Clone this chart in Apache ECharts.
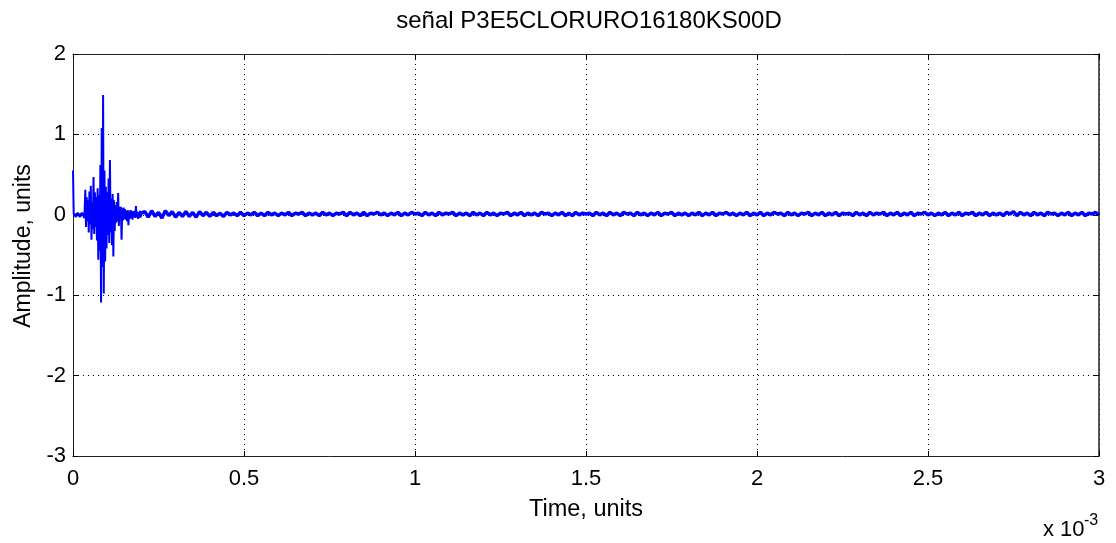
<!DOCTYPE html>
<html>
<head>
<meta charset="utf-8">
<title>señal P3E5CLORURO16180KS00D</title>
<script src="https://cdn.jsdelivr.net/npm/echarts@6/dist/echarts.min.js"></script>
<style>
  html, body { margin: 0; padding: 0; background: #fff; }
  #chart { width: 1116px; height: 543px; }
</style>
</head>
<body>
<div id="chart"></div>
<script>
// Signal samples, time axis in units of 1e-3
const burstStep = 0.002;   // sampling of the opening burst, t = 0 .. 0.2
const burstValues = [
  0.55, 0.02, -0.02, 0.01, -0.03, 0.02, -0.01, 0.03, -0.02, 0.01,
  -0.03, 0.02, -0.02, 0.03, -0.01, 0.02, -0.04, 0.05, 0.31, -0.15,
  0.22, -0.08, 0.18, -0.22, 0.29, -0.12, 0.36, -0.31, 0.15, -0.18,
  0.47, -0.24, 0.28, -0.15, 0.22, -0.32, 0.33, -0.56, 0.25, -0.45,
  0.62, -1.09, 1.08, -0.65, 1.49, -0.98, 0.55, -0.58, 0.35, -0.42,
  0.28, -0.25, 0.45, -0.35, 0.68, -0.22, 0.20, -0.38, 0.26, -0.52,
  0.18, -0.20, 0.12, -0.10, 0.16, -0.08, 0.27, -0.14, 0.10, -0.06,
  0.10, -0.31, 0.08, -0.07, 0.09, -0.05, 0.07, -0.06, 0.05, -0.08,
  0.06, -0.13, 0.04, -0.05, 0.06, -0.04, 0.05, -0.06, 0.04, -0.03,
  0.05, -0.04, 0.11, -0.03, 0.04, -0.05, 0.03, -0.04, 0.05, -0.03,
  0.02
];
const tailStart = 0.2;
const tailStep = 0.01;     // sampling of the long tail, t = 0.21 .. 3
const tailValues = [
  0.04, -0.03, 0.05, -0.02, 0.03, -0.04, 0.05, -0.01, 0.04, -0.03, 0.03, -0.02, 0.04, -0.02, 0.03, -0.03, 0.04, -0.01, 0.03, -0.02,
  0.03, -0.01, 0.02, -0.02, 0.03, 0.00, 0.02, -0.01, 0.03, -0.01, 0.02, 0.00, 0.03, -0.01, 0.02, -0.01, 0.03, 0.00, 0.02, -0.01,
  0.02, 0.00, 0.03, -0.01, 0.02, 0.01, 0.03, -0.01, 0.02, 0.00, 0.02, -0.01, 0.03, 0.00, 0.02, -0.01, 0.02, 0.01, 0.03, -0.01,
  0.03, 0.00, 0.02, -0.01, 0.03, -0.01, 0.02, 0.01, 0.03, 0.00, 0.02, -0.01, 0.02, 0.00, 0.03, -0.01, 0.02, 0.00, 0.03, 0.01,
  0.02, -0.01, 0.03, 0.00, 0.02, -0.01, 0.03, 0.00, 0.02, 0.01, 0.03, -0.01, 0.02, 0.00, 0.02, -0.01, 0.03, 0.00, 0.02, -0.01,
  0.03, 0.00, 0.02, -0.01, 0.02, 0.01, 0.03, -0.01, 0.02, 0.00, 0.03, -0.01, 0.02, 0.00, 0.02, -0.01, 0.03, 0.01, 0.02, -0.01,
  0.02, 0.00, 0.03, -0.01, 0.02, -0.01, 0.03, 0.00, 0.02, 0.01, 0.02, -0.01, 0.03, 0.00, 0.02, -0.01, 0.03, 0.00, 0.02, -0.01,
  0.03, 0.01, 0.02, -0.01, 0.03, 0.00, 0.02, -0.01, 0.02, 0.00, 0.03, -0.01, 0.02, 0.01, 0.03, -0.01, 0.02, 0.00, 0.02, -0.01,
  0.02, 0.00, 0.03, -0.01, 0.02, 0.00, 0.03, -0.01, 0.02, 0.01, 0.03, 0.00, 0.02, -0.01, 0.02, 0.00, 0.03, -0.01, 0.02, 0.00,
  0.03, -0.01, 0.02, 0.00, 0.03, 0.01, 0.02, -0.01, 0.03, 0.00, 0.02, -0.01, 0.02, 0.01, 0.03, -0.01, 0.02, 0.00, 0.03, -0.01,
  0.02, 0.00, 0.03, -0.01, 0.02, 0.01, 0.02, -0.01, 0.03, 0.00, 0.02, -0.01, 0.03, 0.00, 0.02, 0.01, 0.03, -0.01, 0.02, 0.00,
  0.03, -0.01, 0.02, 0.00, 0.03, -0.01, 0.02, 0.01, 0.03, 0.00, 0.02, -0.01, 0.02, 0.00, 0.03, -0.01, 0.02, 0.00, 0.03, -0.01,
  0.02, 0.01, 0.03, -0.01, 0.02, 0.00, 0.03, -0.01, 0.02, 0.00, 0.02, -0.01, 0.03, 0.01, 0.04, -0.01, 0.03, 0.00, 0.02, -0.01,
  0.03, 0.00, 0.02, -0.01, 0.03, 0.01, 0.02, -0.01, 0.02, 0.00, 0.03, -0.01, 0.02, 0.00, 0.03, -0.01, 0.02, 0.01, 0.03, 0.00
];
const xTicks = { min: 0, max: 3, step: 0.5 };
const yTicks = { min: -3, max: 2, step: 1 };
const titleText = 'señal P3E5CLORURO16180KS00D';
const xName = 'Time, units';
const yName = 'Amplitude, units';

// Build [time, amplitude] pairs for the two sampled segments
const burst = burstValues.map((v, i) => [+(i * burstStep).toFixed(4), v]);
const tail = [burst[burst.length - 1]].concat(
  tailValues.map((v, i) => [+(tailStart + (i + 1) * tailStep).toFixed(4), v])
);

const FONT = '"Liberation Sans", Arial, sans-serif';
const chart = echarts.init(document.getElementById('chart'), null, { renderer: 'canvas' });

const dotted = { show: true, lineStyle: { color: '#000', width: 1, type: [1, 4] } };
const tickIn = { show: true, inside: true, length: 5, lineStyle: { color: '#000', width: 1 } };

chart.setOption({
  animation: false,
  backgroundColor: '#fff',
  title: {
    text: titleText,
    left: 584, top: 4, textAlign: 'center',
    textStyle: { fontFamily: FONT, fontSize: 24, fontWeight: 'normal', color: '#000' }
  },
  grid: { left: 73, right: 17, top: 54, bottom: 87, show: false },
  xAxis: [{
    type: 'value', min: xTicks.min, max: xTicks.max, interval: xTicks.step,
    name: xName, nameLocation: 'middle', nameGap: 42,
    nameTextStyle: { fontFamily: FONT, fontSize: 23.5, color: '#000' },
    axisLine: { show: true, onZero: false, lineStyle: { color: '#222', width: 1 } },
    axisTick: tickIn,
    axisLabel: { fontFamily: FONT, fontSize: 22, color: '#000', margin: 12 },
    splitLine: dotted
  }, {
    type: 'value', position: 'top', min: xTicks.min, max: xTicks.max, interval: xTicks.step,
    axisLine: { show: true, onZero: false, lineStyle: { color: '#222', width: 1 } },
    axisTick: tickIn, axisLabel: { show: false }, splitLine: { show: false }
  }],
  yAxis: [{
    type: 'value', min: yTicks.min, max: yTicks.max, interval: yTicks.step,
    name: yName, nameLocation: 'middle', nameGap: 34,
    nameTextStyle: { fontFamily: FONT, fontSize: 23, color: '#000', padding: [0, 0, 0, 18] },
    axisLine: { show: true, onZero: false, lineStyle: { color: '#222', width: 1 } },
    axisTick: tickIn,
    axisLabel: { fontFamily: FONT, fontSize: 22, color: '#000', margin: 7 },
    splitLine: dotted
  }, {
    type: 'value', position: 'right', min: yTicks.min, max: yTicks.max, interval: yTicks.step,
    axisLine: { show: true, onZero: false, lineStyle: { color: '#222', width: 1.5 } },
    axisTick: tickIn, axisLabel: { show: false }, splitLine: { show: false }
  }],
  series: [{
    type: 'line',
    data: tail,
    showSymbol: false,
    symbol: 'none',
    lineStyle: { color: '#0000ff', width: 3.5 },
    silent: true
  }, {
    type: 'line',
    data: burst,
    showSymbol: false,
    symbol: 'none',
    lineStyle: { color: '#0000ff', width: 2 },
    silent: true
  }],
  graphic: [{
    type: 'text', left: 1043, top: 519,
    style: { text: 'x 10', font: '22px ' + FONT, fill: '#000' }
  }, {
    type: 'text', left: 1084, top: 513,
    style: { text: '-3', font: '16px ' + FONT, fill: '#000' }
  }]
});
</script>
</body>
</html>
